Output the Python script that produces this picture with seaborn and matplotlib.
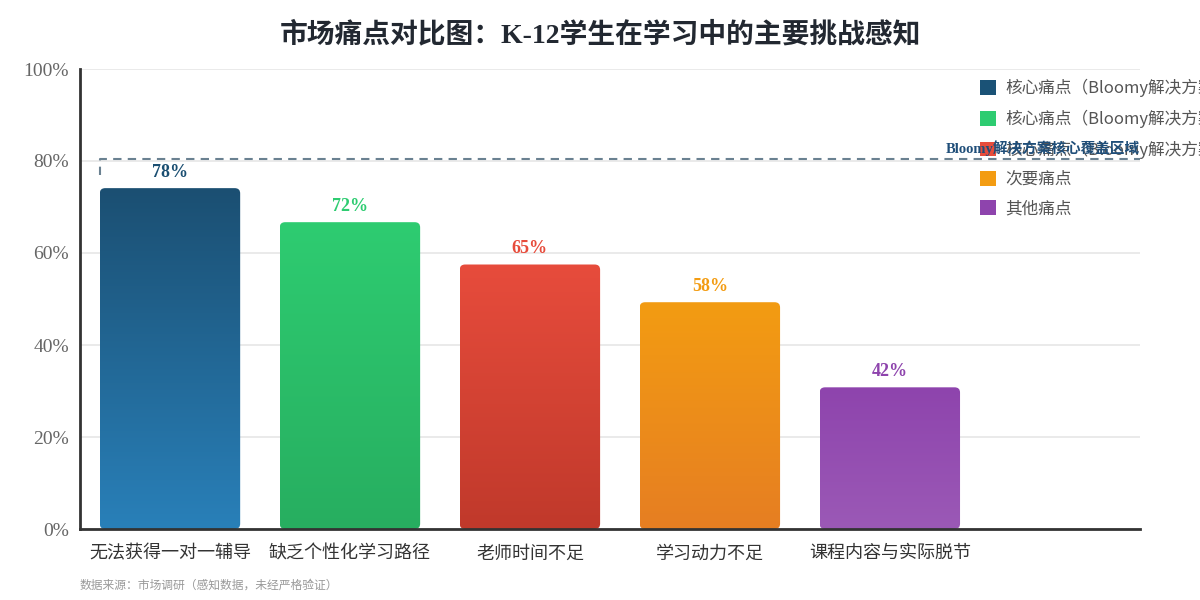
import numpy as np
import pandas as pd
import matplotlib
matplotlib.use('Agg')
import matplotlib.pyplot as plt
from matplotlib.patches import FancyBboxPatch, Patch
import seaborn as sns

# dane
categories = ['无法获得一对一辅导', '缺乏个性化学习路径', '老师时间不足', '学习动力不足', '课程内容与实际脱节']
bar_values = [74.1, 66.7, 57.5, 49.3, 30.8]
value_labels = ['78%', '72%', '65%', '58%', '42%']
top_colors = ['#1b4f72', '#2ecc71', '#e74c3c', '#f39c12', '#8e44ad']
bottom_colors = ['#2980b9', '#27ae60', '#c0392b', '#e67e22', '#9b59b6']
legend_labels = ['核心痛点（Bloomy解决方案覆盖）', '核心痛点（Bloomy解决方案覆盖）',
                 '核心痛点（Bloomy解决方案覆盖）', '次要痛点', '其他痛点']
legend_colors = ['#1a5276', '#2ecc71', '#e74c3c', '#f39c12', '#8e44ad']
y_ticks = [0, 20, 40, 60, 80, 100]
cover_level = 80.4

df = pd.DataFrame({'cat': categories, 'val': bar_values})

sns.set_theme(style='white')
SERIF = ['Liberation Serif', 'Noto Sans CJK SC']
SANS = ['Noto Sans CJK SC', 'DejaVu Sans']
plt.rcParams['font.family'] = SERIF

fig = plt.figure(figsize=(12, 6), dpi=100)
ax = fig.add_axes([80 / 1200, 71 / 600, 1060 / 1200, 460 / 600])

sns.barplot(data=df, x='cat', y='val', width=0.78, color='white', ax=ax, zorder=3)

# gradienty z zaokrąglonymi rogami zamiast zwykłych słupków
for i, p in enumerate(ax.patches):
    x0, w, h = p.get_x(), p.get_width(), p.get_height()
    p.set_visible(False)
    box = FancyBboxPatch((x0, 0), w, h, boxstyle='round,pad=0,rounding_size=0.03',
                         mutation_aspect=38, linewidth=0, facecolor='none', zorder=3)
    ax.add_patch(box)
    c1 = np.array(matplotlib.colors.to_rgb(top_colors[i]))
    c2 = np.array(matplotlib.colors.to_rgb(bottom_colors[i]))
    t = np.linspace(0, 1, 256)[:, None]
    grad = (c1 * (1 - t) + c2 * t)[:, None, :]
    im = ax.imshow(grad, extent=(x0, x0 + w, 0, h), origin='upper', aspect='auto', zorder=3)
    im.set_clip_path(box)
    ax.text(x0 + w / 2, h + 1.6, value_labels[i], ha='center', va='bottom',
            fontsize=13, fontweight='bold', color=top_colors[i], zorder=5)

ax.set_xlim(-0.5, 5.39)
ax.set_ylim(0, 100)
ax.set_yticks(y_ticks)
ax.set_yticklabels([f'{v}%' for v in y_ticks], fontsize=14, color='#666666')
ax.set_xticks(range(len(categories)))
ax.set_xticklabels(categories, fontsize=13, color='#333333', family=SANS)
ax.tick_params(axis='x', length=0, pad=11)
ax.tick_params(axis='y', length=0, pad=8)
ax.set_xlabel('')
ax.set_ylabel('')
ax.grid(axis='y', color='#e6e6e6', linewidth=1.2, zorder=0)
for s in ['top', 'right']:
    ax.spines[s].set_visible(False)
for s in ['left', 'bottom']:
    ax.spines[s].set_color('#333333')
    ax.spines[s].set_linewidth(2)
    ax.spines[s].set_zorder(6)

# obszar pokrycia Bloomy
x_left = ax.patches[0].get_x()
ax.plot([x_left, x_left, 5.39], [77, cover_level, cover_level], color='#6a8191',
        linestyle=(0, (4, 3)), linewidth=1.5, zorder=2, clip_on=False)
ax.text(5.39, cover_level + 0.6, 'Bloomy解决方案核心覆盖区域', ha='right', va='bottom',
        fontsize=10.5, fontweight='bold', color='#1f4e79', zorder=8)

handles = [Patch(facecolor=c, edgecolor='none') for c in legend_colors]
leg = ax.legend(handles, legend_labels, loc='upper left', bbox_to_anchor=(980 / 1200, 1 - 79 / 600),
                bbox_transform=fig.transFigure,
                frameon=False, borderpad=0, borderaxespad=0,
                handlelength=0.96, handleheight=0.96, handletextpad=0.55, labelspacing=0.74,
                prop={'family': SANS, 'size': 12})
leg.set_zorder(4)
for txt in leg.get_texts():
    txt.set_color('#555555')

fig.text(0.5, 1 - 35 / 600, '市场痛点对比图：K-12学生在学习中的主要挑战感知', ha='center', va='center',
         fontsize=20, fontweight='bold', color='#222831', family=SERIF)
fig.text(80 / 1200, 1 - 585 / 600, '数据来源：市场调研（感知数据，未经严格验证）', ha='left', va='center',
         fontsize=8.5, color='#999999', family=SANS)

plt.savefig('out.png', dpi=100)
plt.close()
